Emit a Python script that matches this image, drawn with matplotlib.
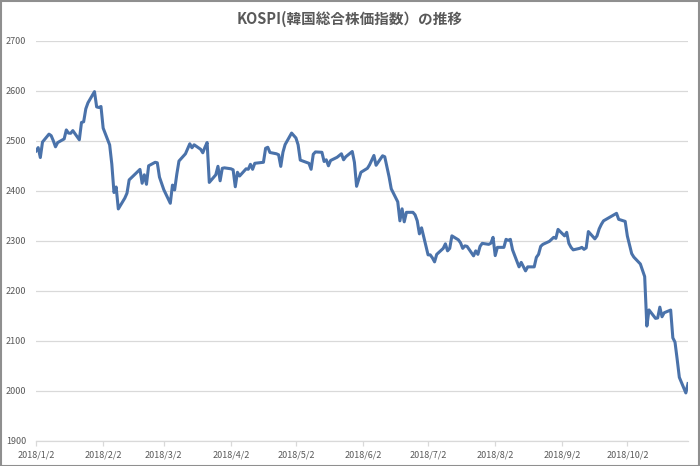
import matplotlib
matplotlib.use('Agg')
import matplotlib.pyplot as plt
import matplotlib.dates as mdates
from matplotlib.patches import Rectangle
import pandas as pd

plt.rcParams['font.family'] = ['Noto Sans CJK JP', 'DejaVu Sans']

title = 'KOSPI(韓国総合株価指数）の推移'

# trading days and closing values
dates = [
    '2018-01-02', '2018-01-03', '2018-01-04', '2018-01-05', '2018-01-08', '2018-01-09',
    '2018-01-10', '2018-01-11', '2018-01-12', '2018-01-15', '2018-01-16', '2018-01-17',
    '2018-01-18', '2018-01-19', '2018-01-22', '2018-01-23', '2018-01-24', '2018-01-25',
    '2018-01-26', '2018-01-29', '2018-01-30', '2018-01-31',
    '2018-02-01', '2018-02-02', '2018-02-05', '2018-02-06', '2018-02-07', '2018-02-08',
    '2018-02-09', '2018-02-12', '2018-02-13', '2018-02-14', '2018-02-19', '2018-02-20',
    '2018-02-21', '2018-02-22', '2018-02-23', '2018-02-26', '2018-02-27', '2018-02-28',
    '2018-03-02', '2018-03-05', '2018-03-06', '2018-03-07', '2018-03-08', '2018-03-09',
    '2018-03-12', '2018-03-13', '2018-03-14', '2018-03-15', '2018-03-16', '2018-03-19',
    '2018-03-20', '2018-03-21', '2018-03-22', '2018-03-23', '2018-03-26', '2018-03-27',
    '2018-03-28', '2018-03-29', '2018-03-30',
    '2018-04-02', '2018-04-03', '2018-04-04', '2018-04-05', '2018-04-06', '2018-04-09',
    '2018-04-10', '2018-04-11', '2018-04-12', '2018-04-13', '2018-04-16', '2018-04-17',
    '2018-04-18', '2018-04-19', '2018-04-20', '2018-04-23', '2018-04-24', '2018-04-25',
    '2018-04-26', '2018-04-27', '2018-04-30',
    '2018-05-02', '2018-05-03', '2018-05-04', '2018-05-08', '2018-05-09', '2018-05-10',
    '2018-05-11', '2018-05-14', '2018-05-15', '2018-05-16', '2018-05-17', '2018-05-18',
    '2018-05-21', '2018-05-23', '2018-05-24', '2018-05-25', '2018-05-28', '2018-05-29',
    '2018-05-30', '2018-05-31',
    '2018-06-01', '2018-06-04', '2018-06-05', '2018-06-07', '2018-06-08', '2018-06-11',
    '2018-06-12', '2018-06-14', '2018-06-15', '2018-06-18', '2018-06-19', '2018-06-20',
    '2018-06-21', '2018-06-22', '2018-06-25', '2018-06-26', '2018-06-27', '2018-06-28',
    '2018-06-29',
    '2018-07-02', '2018-07-03', '2018-07-04', '2018-07-05', '2018-07-06', '2018-07-09',
    '2018-07-10', '2018-07-11', '2018-07-12', '2018-07-13', '2018-07-16', '2018-07-17',
    '2018-07-18', '2018-07-19', '2018-07-20', '2018-07-23', '2018-07-24', '2018-07-25',
    '2018-07-26', '2018-07-27', '2018-07-30', '2018-07-31',
    '2018-08-01', '2018-08-02', '2018-08-03', '2018-08-06', '2018-08-07', '2018-08-08',
    '2018-08-09', '2018-08-10', '2018-08-13', '2018-08-14', '2018-08-16', '2018-08-17',
    '2018-08-20', '2018-08-21', '2018-08-22', '2018-08-23', '2018-08-24', '2018-08-27',
    '2018-08-28', '2018-08-29', '2018-08-30', '2018-08-31',
    '2018-09-03', '2018-09-04', '2018-09-05', '2018-09-06', '2018-09-07', '2018-09-10',
    '2018-09-11', '2018-09-12', '2018-09-13', '2018-09-14', '2018-09-17', '2018-09-18',
    '2018-09-19', '2018-09-20', '2018-09-21', '2018-09-27', '2018-09-28',
    '2018-10-01', '2018-10-02', '2018-10-04', '2018-10-05', '2018-10-08', '2018-10-10',
    '2018-10-11', '2018-10-12', '2018-10-15', '2018-10-16', '2018-10-17', '2018-10-18',
    '2018-10-19', '2018-10-22', '2018-10-23', '2018-10-24', '2018-10-25', '2018-10-26',
    '2018-10-29', '2018-10-30',
]

values = [
    2479.6, 2486.3, 2466.5, 2497.5, 2513.3, 2510.2, 2500.0, 2487.9, 2496.4, 2503.7,
    2521.7, 2515.4, 2515.0, 2520.3, 2502.0, 2536.6, 2538.0, 2564.0, 2576.0, 2598.2,
    2567.7, 2566.5,
    2568.5, 2525.4, 2491.8, 2453.3, 2396.6, 2407.6, 2363.8, 2385.4, 2395.2, 2421.8,
    2442.8, 2415.1, 2432.0, 2413.0, 2450.0, 2457.0, 2456.0, 2427.4,
    2402.2, 2375.1, 2411.4, 2401.8, 2433.1, 2459.5, 2474.0, 2484.0, 2494.0, 2486.0,
    2492.0, 2483.0, 2476.0, 2487.0, 2496.5, 2416.8, 2432.0, 2449.0, 2420.0, 2445.0,
    2445.9,
    2444.0, 2442.0, 2408.1, 2437.0, 2429.6, 2444.0, 2443.0, 2453.0, 2443.0, 2455.0,
    2456.6, 2457.0, 2485.0, 2487.0, 2476.6, 2474.0, 2472.0, 2448.8, 2477.0, 2492.4,
    2515.4,
    2505.6, 2492.0, 2461.4, 2455.0, 2443.0, 2473.0, 2477.7, 2477.0, 2458.6, 2462.0,
    2450.0, 2460.6, 2467.0, 2474.0, 2462.0, 2468.0, 2478.6, 2457.0, 2409.0, 2423.0,
    2437.0, 2445.0, 2452.0, 2470.6, 2451.0, 2470.0, 2468.0, 2428.0, 2404.0, 2378.0,
    2340.0, 2364.0, 2338.0, 2357.0, 2357.0, 2352.0, 2340.0, 2314.0, 2326.0,
    2272.0, 2272.0, 2266.0, 2258.0, 2273.0, 2285.0, 2294.0, 2280.0, 2285.0, 2310.0,
    2302.0, 2296.0, 2285.0, 2290.0, 2289.0, 2270.0, 2280.0, 2273.0, 2289.0, 2295.0,
    2293.0, 2295.3,
    2307.0, 2270.5, 2287.0, 2287.0, 2303.0, 2301.0, 2303.0, 2282.0, 2248.0, 2257.0,
    2240.0, 2248.0, 2248.0, 2267.0, 2273.0, 2289.0, 2293.0, 2299.0, 2303.0, 2307.0,
    2305.0, 2322.9,
    2310.0, 2317.0, 2295.0, 2287.0, 2282.0, 2285.0, 2287.0, 2283.0, 2286.0, 2318.6,
    2304.0, 2310.0, 2324.0, 2333.0, 2340.0, 2355.0, 2343.0,
    2338.9, 2309.6, 2274.5, 2267.5, 2253.8, 2228.6, 2129.7, 2161.9, 2145.1, 2145.9,
    2167.5, 2148.3, 2156.3, 2161.7, 2106.1, 2097.6, 2063.3, 2027.2, 1996.1, 2014.7,
]

tick_dates = ['2018-01-02', '2018-02-02', '2018-03-02', '2018-04-02', '2018-05-02',
              '2018-06-02', '2018-07-02', '2018-08-02', '2018-09-02', '2018-10-02']
tick_labels = ['2018/1/2', '2018/2/2', '2018/3/2', '2018/4/2', '2018/5/2',
               '2018/6/2', '2018/7/2', '2018/8/2', '2018/9/2', '2018/10/2']

x = pd.to_datetime(dates)

fig = plt.figure(figsize=(7, 4.66), dpi=100)
ax = fig.add_axes([36 / 700, 1 - 441 / 466, 652 / 700, 400.3 / 466])

ax.plot(x, values, color='#4a72aa', linewidth=2.2, solid_joinstyle='round')

ax.set_ylim(1900, 2700)
ax.set_yticks(range(1900, 2701, 100))
ax.set_xlim(pd.Timestamp('2018-01-02'), pd.Timestamp('2018-10-30'))
ax.set_xticks(pd.to_datetime(tick_dates))
ax.set_xticklabels(tick_labels)

ax.grid(axis='y', color='#d9d9d9', linewidth=0.9)
ax.set_axisbelow(True)
for side in ['top', 'right', 'left']:
    ax.spines[side].set_visible(False)
ax.spines['bottom'].set_color('#d9d9d9')
ax.spines['bottom'].set_linewidth(0.9)

ax.tick_params(axis='y', length=0, pad=7, labelsize=6.5, labelcolor='#595959')
ax.tick_params(axis='x', length=3.5, width=0.9, color='#d9d9d9', pad=3,
               labelsize=6.5, labelcolor='#595959')

fig.text(0.5, 1 - 19 / 466, title, ha='center', va='center',
         fontsize=10.5, fontweight='bold', color='#595959')

# outer chart frame
fig.patches.append(Rectangle((0.001, 0.001), 0.998, 0.997, transform=fig.transFigure,
                             fill=False, edgecolor='#8f8f8f', linewidth=1.5))

fig.savefig('out.png', dpi=100)
